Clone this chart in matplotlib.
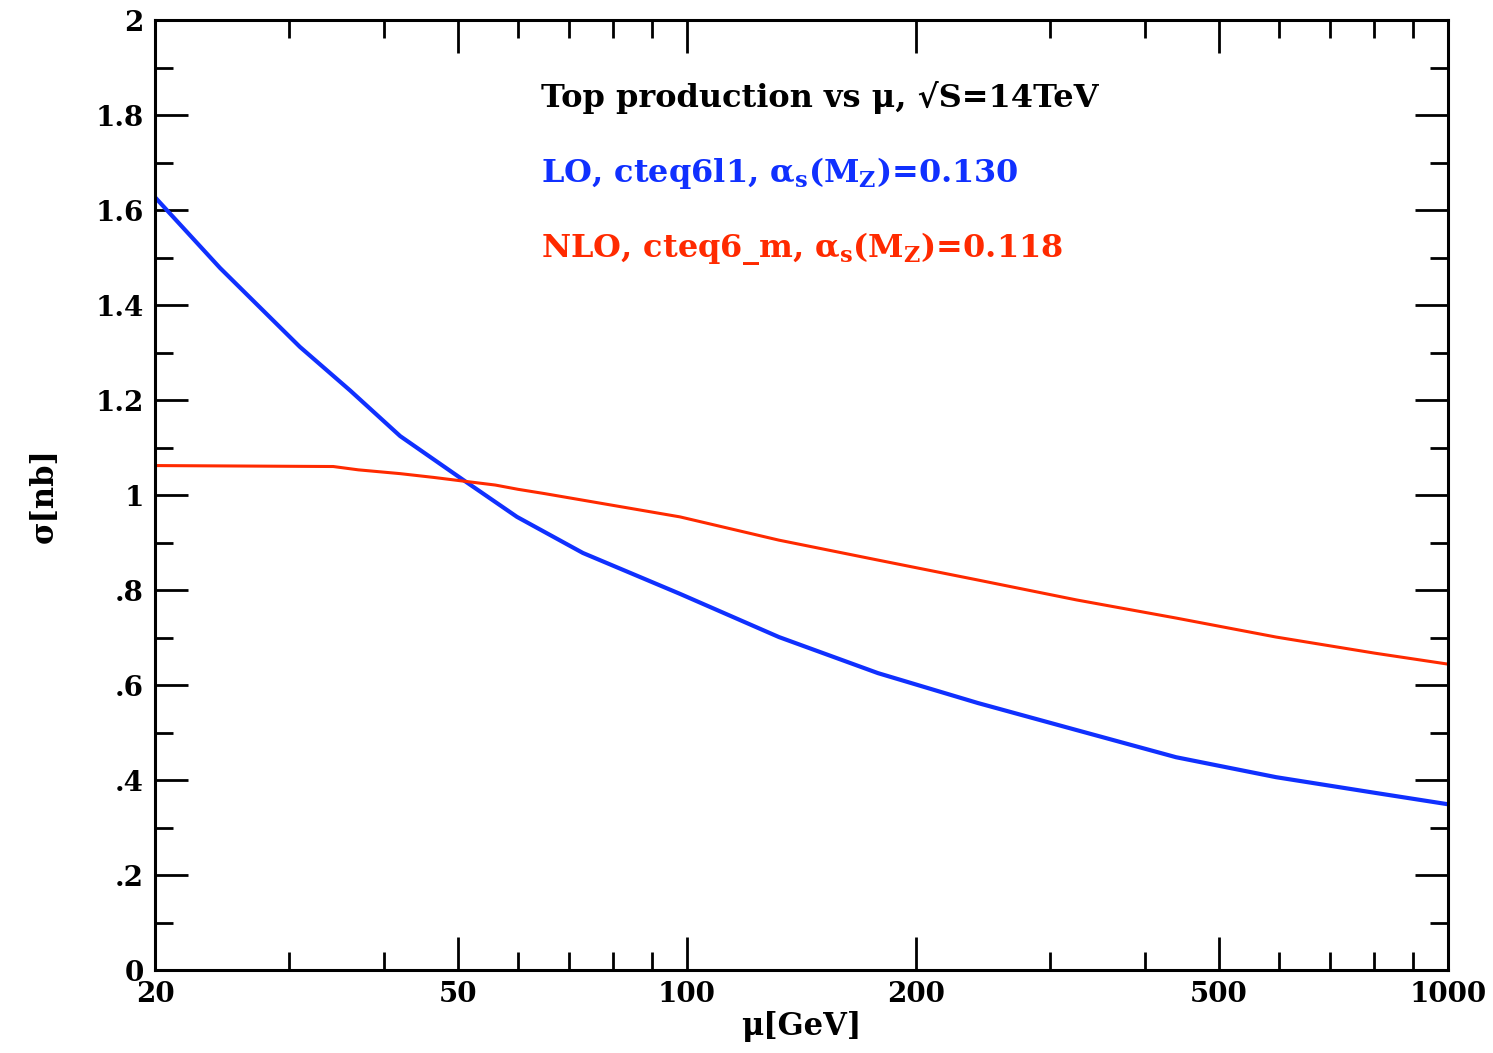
import numpy as np
import matplotlib
matplotlib.use("Agg")
import matplotlib.pyplot as plt
from matplotlib.ticker import FixedLocator, NullFormatter

# fonts: bold serif, math in the same face
plt.rcParams['font.family'] = 'DejaVu Serif'
plt.rcParams['font.weight'] = 'bold'
plt.rcParams['axes.labelweight'] = 'bold'
plt.rcParams['mathtext.fontset'] = 'custom'
plt.rcParams['mathtext.rm'] = 'DejaVu Serif:bold'
plt.rcParams['mathtext.it'] = 'DejaVu Serif:bold'
plt.rcParams['mathtext.default'] = 'rm'

# LO (cteq6l1) cross section vs scale mu
mu_lo = [20, 24.35, 31.0, 36.1, 42.0, 50.8, 59.8, 73.0, 97.9, 132.1, 178.3,
         241.3, 325.4, 439.3, 594.5, 802, 1000]
sigma_lo = [1.627, 1.478, 1.312, 1.220, 1.124, 1.032, 0.954, 0.878, 0.792, 0.701,
            0.625, 0.562, 0.505, 0.448, 0.406, 0.373, 0.349]

# NLO (cteq6m)
mu_nlo = [20, 34.3, 37.0, 42.0, 46.5, 51.0, 56.0, 60.0, 65.0, 97.9, 132.1, 178.3,
          241.3, 325.4, 439.3, 594.5, 802, 1000]
sigma_nlo = [1.062, 1.060, 1.053, 1.045, 1.037, 1.029, 1.021, 1.012, 1.003, 0.954,
             0.905, 0.863, 0.821, 0.779, 0.741, 0.701, 0.667, 0.644]

x_major = [20, 50, 100, 200, 500, 1000]
x_major_labels = ['20', '50', '100', '200', '500', '1000']
x_minor = [30, 40, 60, 70, 80, 90, 300, 400, 600, 700, 800, 900]
y_major = [0, 0.2, 0.4, 0.6, 0.8, 1.0, 1.2, 1.4, 1.6, 1.8, 2.0]
y_major_labels = ['0', '.2', '.4', '.6', '.8', '1', '1.2', '1.4', '1.6', '1.8', '2']
y_minor = [0.1, 0.3, 0.5, 0.7, 0.9, 1.1, 1.3, 1.5, 1.7, 1.9]

blue = '#1030ff'
red = '#ff2a00'

fig = plt.figure(figsize=(14.93, 10.53), dpi=100)
ax = fig.add_axes([0.1038, 0.0788, 0.8660, 0.9022])

ax.plot(mu_lo, sigma_lo, color=blue, lw=3.0)
ax.plot(mu_nlo, sigma_nlo, color=red, lw=2.2)

ax.set_xscale('log')
ax.set_xlim(20, 1000)
ax.set_ylim(0, 2)

ax.xaxis.set_major_locator(FixedLocator(x_major))
ax.xaxis.set_minor_locator(FixedLocator(x_minor))
ax.set_xticklabels(x_major_labels)
ax.xaxis.set_minor_formatter(NullFormatter())
ax.yaxis.set_major_locator(FixedLocator(y_major))
ax.yaxis.set_minor_locator(FixedLocator(y_minor))
ax.set_yticklabels(y_major_labels)

ax.tick_params(which='both', direction='in', top=True, right=True,
               width=2, labelsize=20, colors='black')
ax.tick_params(which='major', length=24, pad=8)
ax.tick_params(which='minor', length=13)
for s in ax.spines.values():
    s.set_linewidth(2.2)

ax.set_xlabel('μ[GeV]', fontsize=22, labelpad=2)
ax.set_ylabel('σ[nb]', fontsize=22, labelpad=26)

# annotations
ax.text(0.2985, 0.918, 'Top production vs μ, √S=14TeV', transform=ax.transAxes,
        fontsize=23, va='center', ha='left', color='black')
ax.text(0.2985, 0.839, r'LO, cteq6l1, α$_s$(M$_Z$)=0.130', transform=ax.transAxes,
        fontsize=23, va='center', ha='left', color=blue)
ax.text(0.2985, 0.760, r'NLO, cteq6_m, α$_s$(M$_Z$)=0.118', transform=ax.transAxes,
        fontsize=23, va='center', ha='left', color=red)

fig.savefig('out.png', dpi=100)
